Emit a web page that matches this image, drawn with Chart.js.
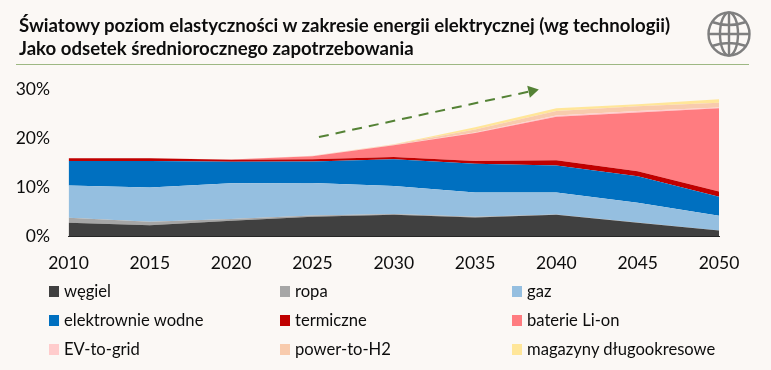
<!DOCTYPE html>
<html lang="pl">
<head>
<meta charset="utf-8">
<title>Elastyczność</title>
<script src="https://cdn.jsdelivr.net/npm/chart.js@4"></script>
<style>
  html, body { margin: 0; padding: 0; }
  body { width: 771px; height: 370px; position: relative; overflow: hidden; background: #fbf8f5; font-family: Lato, sans-serif; color: #0d0d0d; }
  #chart { position: absolute; left: 0; top: 0; }
  .title { position: absolute; left: 19px; font-weight: 700; font-size: 18.6px; line-height: 22px; white-space: nowrap; }
  .rule { position: absolute; left: 16px; width: 733px; top: 64px; height: 1px; background: #9db883; }
  .globe { position: absolute; left: 707px; top: 11px; }
  .key { position: absolute; font-size: 16.6px; line-height: 20px; white-space: nowrap; padding-left: 15px; }
  .key i { position: absolute; left: 0; top: 5px; width: 10px; height: 11px; }
</style>
</head>
<body>
<canvas id="chart" width="771" height="370"></canvas>
<div class="title" style="top:14px">Światowy poziom elastyczności w zakresie energii elektrycznej (wg technologii)</div>
<div class="title" style="top:37px">Jako odsetek średniorocznego zapotrzebowania</div>
<div class="rule"></div>
<svg class="globe" width="44" height="46" viewBox="0 0 44 46" fill="none" stroke="#7f7f7f" stroke-width="2.4">
  <ellipse cx="22" cy="23" rx="20.5" ry="21.5"/>
  <ellipse cx="22" cy="23" rx="9" ry="21.5"/>
  <path d="M22 1.5V44.5M1.5 23H42.5M5 11Q22 17 39 11M5 35Q22 29 39 35"/>
</svg>
<div id="legend"></div>
<script>
  var years = [2010, 2015, 2020, 2025, 2030, 2035, 2040, 2045, 2050];

  // Band thickness in % of demand
  var wegiel  = [2.7, 2.2, 3.1, 3.95, 4.35, 3.8, 4.35, 2.7, 1.1];
  var ropa    = [1.05, 0.7, 0.35, 0.25, 0.15, 0.15, 0.05, 0.05, 0.03];
  var gaz     = [6.55, 7.0, 7.3, 6.6, 5.7, 4.95, 4.5, 4.05, 3.02];
  var wodne   = [5.0, 5.4, 4.4, 4.4, 5.45, 5.85, 5.5, 5.4, 3.85];
  var termo   = [0.55, 0.55, 0.4, 0.45, 0.45, 0.55, 1.05, 1.0, 1.1];
  var liIon   = [0, 0, 0.05, 0.65, 2.4, 5.7, 8.9, 12.0, 16.95];
  var evGrid  = [0, 0, 0, 0.02, 0.05, 0.1, 0.25, 0.3, 0.2];
  var powerH2 = [0, 0, 0, 0.05, 0.1, 0.65, 0.9, 1.0, 0.95];
  var magazyn = [0, 0, 0, 0.03, 0.05, 0.45, 0.55, 0.4, 0.7];

  var names = ['węgiel', 'ropa', 'gaz', 'elektrownie wodne', 'termiczne', 'baterie Li-on', 'EV-to-grid', 'power-to-H2', 'magazyny długookresowe'];
  var colors = ['#404040', '#a6a6a6', '#95bfe0', '#0070c0', '#c00000', '#ff7c80', '#ffcccc', '#f8cbad', '#ffe699'];
  var series = [wegiel, ropa, gaz, wodne, termo, liIon, evGrid, powerH2, magazyn];

  // Trend arrow, in chart units (year, %)
  var arrowYears = [2025.4, 2038.5];
  var arrowValues = [20.2, 29.6];

  var datasets = series.map(function (values, i) {
    return {
      label: names[i],
      data: values.map(function (v, j) { return { x: years[j], y: v }; }),
      backgroundColor: colors[i],
      borderWidth: 0,
      pointRadius: 0,
      fill: i === 0 ? 'origin' : '-1',
      stack: 'bands'
    };
  });

  datasets.push({
    label: 'trend',
    data: arrowYears.map(function (x, j) { return { x: x, y: arrowValues[j] }; }),
    stack: 'arrow',
    borderColor: '#548235',
    borderWidth: 2,
    borderDash: [10, 7],
    fill: false,
    clip: false,
    pointStyle: 'triangle',
    pointRadius: [0, 7],
    pointRotation: 77.6,
    pointBackgroundColor: '#548235',
    pointBorderWidth: 0
  });

  new Chart(document.getElementById('chart'), {
    type: 'line',
    data: { datasets: datasets },
    options: {
      responsive: false,
      animation: false,
      events: [],
      layout: { padding: { top: 89, right: 52, bottom: 84, left: 0 } },
      plugins: { legend: { display: false }, tooltip: { enabled: false } },
      scales: {
        x: {
          type: 'linear',
          min: 2010,
          max: 2050,
          afterFit: function (scale) { scale.height = 50; },
          grid: { display: false, drawTicks: false },
          border: { color: '#262626', width: 1 },
          ticks: {
            stepSize: 5,
            padding: 17,
            color: '#0d0d0d',
            maxRotation: 0,
            font: { family: 'Lato', size: 17.5 },
            callback: function (v) { return String(v); }
          }
        },
        y: {
          stacked: true,
          min: 0,
          max: 30,
          afterFit: function (scale) { scale.width = 68.5; },
          grid: { display: false, drawTicks: false },
          border: { display: false },
          ticks: {
            stepSize: 10,
            padding: 18.5,
            color: '#0d0d0d',
            font: { family: 'Lato', size: 17.5 },
            callback: function (v) { return v + '%'; }
          }
        }
      }
    }
  });

  // Three-column legend under the chart
  var legendX = [49, 280, 512];
  var legendY = [281, 310, 339];
  var legend = document.getElementById('legend');
  names.forEach(function (name, i) {
    var key = document.createElement('div');
    key.className = 'key';
    key.style.left = legendX[i % 3] + 'px';
    key.style.top = legendY[Math.floor(i / 3)] + 'px';
    var swatch = document.createElement('i');
    swatch.style.background = colors[i];
    key.appendChild(swatch);
    key.appendChild(document.createTextNode(name));
    legend.appendChild(key);
  });
</script>
</body>
</html>
